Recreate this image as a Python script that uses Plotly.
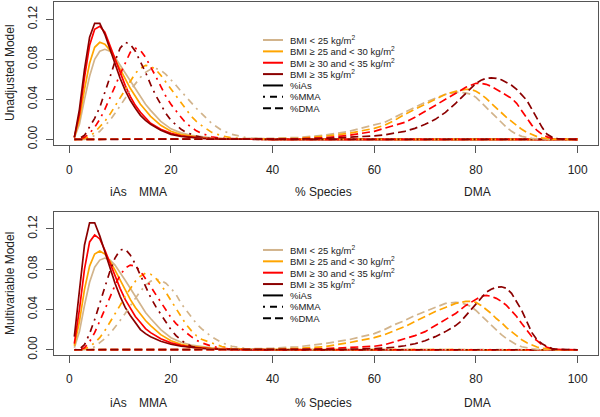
import plotly.graph_objects as go

# ---------------- data ----------------
bmi_labels = ["BMI < 25 kg/m<sup>2</sup>", "BMI \u2265 25 and < 30 kg/m<sup>2</sup>",
              "BMI \u2265 30 and < 35 kg/m<sup>2</sup>", "BMI \u2265 35 kg/m<sup>2</sup>"]
species_labels = ["%iAs", "%MMA", "%DMA"]
panel_titles = ["Unadjusted Model", "Multivariable Model"]
x_tickvals = [0, 20, 40, 60, 80, 100]
y_tickvals = [0.00, 0.04, 0.08, 0.12]
y_ticktext = ["0.00", "0.04", "0.08", "0.12"]
species_axis_names = ["iAs", "MMA", "% Species", "DMA"]
species_axis_pos = [9.6, 16.5, 50.0, 80.3]

x_ias = [1, 2, 3, 4, 5, 6, 7, 8, 9, 10, 11, 12, 13, 14, 15, 16, 18, 20, 22, 24, 26, 28, 30, 35, 40, 100]
x_mma = [1, 2, 3, 4, 5, 6, 7, 8, 9, 10, 11, 12, 13, 14, 15, 16, 17, 18, 19, 20, 21, 22, 23, 24, 25, 26,
         28, 30, 32, 35, 40, 100]
x_dma = [1, 30, 40, 45, 50, 55, 60, 62, 64, 66, 68, 70, 72, 74, 76, 77, 78, 79, 80, 81, 82, 83, 84, 85,
         86, 87, 88, 89, 90, 91, 92, 93, 94, 95, 96, 97, 100]

# Unadjusted model -- %iAs
unadj_ias_bmi1 = [0.0015, 0.015, 0.040, 0.063, 0.080, 0.088, 0.090, 0.088, 0.082, 0.074, 0.066, 0.058, 0.050,
                  0.042, 0.035, 0.029, 0.018, 0.0105, 0.0065, 0.004, 0.0024, 0.0014, 0.0008, 0.0002, 0.0, 0.0]
unadj_ias_bmi2 = [0.002, 0.020, 0.050, 0.076, 0.092, 0.097, 0.095, 0.089, 0.080, 0.070, 0.060, 0.051, 0.043,
                  0.035, 0.029, 0.023, 0.014, 0.008, 0.0047, 0.0028, 0.0016, 0.0009, 0.0005, 0.0001, 0.0, 0.0]
unadj_ias_bmi3 = [0.002, 0.025, 0.062, 0.094, 0.110, 0.113, 0.107, 0.094, 0.080, 0.066, 0.054, 0.043, 0.034,
                  0.027, 0.021, 0.016, 0.010, 0.006, 0.0035, 0.002, 0.0012, 0.0007, 0.0004, 0.0001, 0.0, 0.0]
unadj_ias_bmi4 = [0.002, 0.030, 0.070, 0.102, 0.116, 0.116, 0.105, 0.090, 0.075, 0.061, 0.049, 0.039, 0.031,
                  0.024, 0.019, 0.015, 0.009, 0.005, 0.003, 0.0018, 0.001, 0.0006, 0.0003, 0.0001, 0.0, 0.0]

# Unadjusted model -- %MMA
unadj_mma_bmi1 = [0.0, 0.0, 0.0, 0.001, 0.004, 0.008, 0.013, 0.019, 0.026, 0.033, 0.041, 0.049, 0.056, 0.062,
                  0.067, 0.070, 0.071, 0.069, 0.065, 0.060, 0.054, 0.048, 0.042, 0.036, 0.031, 0.026,
                  0.016, 0.009, 0.005, 0.0015, 0.0003, 0.0]
unadj_mma_bmi2 = [0.0, 0.0, 0.001, 0.003, 0.007, 0.012, 0.018, 0.025, 0.033, 0.041, 0.050, 0.058, 0.066, 0.071,
                  0.074, 0.073, 0.070, 0.064, 0.057, 0.050, 0.043, 0.036, 0.029, 0.023, 0.018, 0.014,
                  0.007, 0.0035, 0.0015, 0.0005, 0.0001, 0.0]
unadj_mma_bmi3 = [0.0, 0.0, 0.002, 0.006, 0.012, 0.020, 0.030, 0.041, 0.053, 0.065, 0.076, 0.087, 0.091, 0.089,
                  0.082, 0.073, 0.063, 0.053, 0.043, 0.035, 0.028, 0.022, 0.016, 0.012, 0.0085, 0.006,
                  0.0025, 0.001, 0.0004, 0.0001, 0.0, 0.0]
unadj_mma_bmi4 = [0.0, 0.001, 0.004, 0.012, 0.021, 0.032, 0.046, 0.062, 0.078, 0.091, 0.097, 0.095, 0.088, 0.078,
                  0.067, 0.055, 0.044, 0.035, 0.026, 0.019, 0.014, 0.010, 0.007, 0.005, 0.0033, 0.002,
                  0.0008, 0.0003, 0.0001, 0.0, 0.0, 0.0]

# Unadjusted model -- %DMA
unadj_dma_bmi1 = [0.0, 0.0002, 0.001, 0.002, 0.004, 0.008, 0.014, 0.017, 0.022, 0.027, 0.032, 0.037, 0.041,
                  0.045, 0.047, 0.047, 0.0465, 0.045, 0.042, 0.037, 0.032, 0.026, 0.021, 0.016, 0.012, 0.008,
                  0.005, 0.003, 0.0017, 0.001, 0.0005, 0.0002, 0.0001, 0.0, 0.0, 0.0, 0.0]
unadj_dma_bmi2 = [0.0, 0.0001, 0.0005, 0.001, 0.003, 0.006, 0.011, 0.014, 0.019, 0.025, 0.030, 0.035, 0.040,
                  0.045, 0.048, 0.049, 0.050, 0.050, 0.048, 0.045, 0.041, 0.036, 0.031, 0.026, 0.022, 0.018,
                  0.014, 0.010, 0.007, 0.0045, 0.0027, 0.0015, 0.0007, 0.0003, 0.0001, 0.0, 0.0]
unadj_dma_bmi3 = [0.0, 0.0, 0.0002, 0.0005, 0.0015, 0.004, 0.008, 0.011, 0.014, 0.017, 0.022, 0.028, 0.034,
                  0.040, 0.046, 0.049, 0.052, 0.054, 0.056, 0.056, 0.055, 0.053, 0.050, 0.047, 0.044, 0.041,
                  0.036, 0.029, 0.021, 0.014, 0.009, 0.005, 0.0025, 0.001, 0.0004, 0.0001, 0.0]
unadj_dma_bmi4 = [0.0, 0.0, 0.0001, 0.0003, 0.0008, 0.002, 0.0035, 0.0045, 0.006, 0.008, 0.011, 0.015, 0.020,
                  0.027, 0.036, 0.041, 0.047, 0.052, 0.056, 0.059, 0.061, 0.0615, 0.061, 0.0595, 0.057, 0.054,
                  0.050, 0.045, 0.039, 0.030, 0.021, 0.012, 0.005, 0.002, 0.0007, 0.0003, 0.0]

# Multivariable model -- %iAs
multi_ias_bmi1 = [0.002, 0.018, 0.044, 0.067, 0.082, 0.089, 0.091, 0.089, 0.084, 0.077, 0.069, 0.061, 0.053,
                  0.044, 0.037, 0.031, 0.020, 0.012, 0.0075, 0.0047, 0.003, 0.0018, 0.0011, 0.0003, 0.0001, 0.0]
multi_ias_bmi2 = [0.004, 0.028, 0.060, 0.083, 0.095, 0.098, 0.095, 0.088, 0.079, 0.069, 0.059, 0.050, 0.042,
                  0.035, 0.029, 0.024, 0.015, 0.009, 0.0055, 0.0035, 0.0022, 0.0014, 0.0009, 0.0002, 0.0001, 0.0]
multi_ias_bmi3 = [0.006, 0.040, 0.080, 0.107, 0.114, 0.110, 0.099, 0.086, 0.073, 0.061, 0.050, 0.041, 0.033,
                  0.027, 0.021, 0.017, 0.011, 0.0068, 0.0043, 0.0027, 0.0017, 0.001, 0.0006, 0.0002, 0.0, 0.0]
multi_ias_bmi4 = [0.013, 0.058, 0.104, 0.126, 0.126, 0.113, 0.097, 0.081, 0.066, 0.053, 0.042, 0.034, 0.027,
                  0.020, 0.016, 0.013, 0.0085, 0.0055, 0.0035, 0.0022, 0.0014, 0.0009, 0.0005, 0.0001, 0.0, 0.0]

# Multivariable model -- %MMA
multi_mma_bmi1 = [0.0, 0.0, 0.0, 0.001, 0.003, 0.007, 0.011, 0.016, 0.022, 0.029, 0.036, 0.044, 0.051, 0.058,
                  0.064, 0.068, 0.070, 0.069, 0.066, 0.061, 0.055, 0.046, 0.039, 0.032, 0.026, 0.021,
                  0.013, 0.007, 0.0035, 0.001, 0.0002, 0.0]
multi_mma_bmi2 = [0.0, 0.0, 0.001, 0.003, 0.007, 0.012, 0.019, 0.027, 0.035, 0.044, 0.053, 0.061, 0.068, 0.073,
                  0.076, 0.075, 0.071, 0.065, 0.057, 0.049, 0.040, 0.032, 0.025, 0.019, 0.014, 0.0105,
                  0.0065, 0.0032, 0.0015, 0.0005, 0.0001, 0.0]
multi_mma_bmi3 = [0.0, 0.0, 0.002, 0.008, 0.017, 0.028, 0.040, 0.052, 0.064, 0.074, 0.081, 0.084, 0.083, 0.078,
                  0.071, 0.063, 0.055, 0.047, 0.039, 0.032, 0.026, 0.021, 0.017, 0.013, 0.0095, 0.007,
                  0.0035, 0.0015, 0.0006, 0.0001, 0.0, 0.0]
multi_mma_bmi4 = [0.0, 0.0005, 0.005, 0.016, 0.030, 0.046, 0.063, 0.078, 0.091, 0.099, 0.100, 0.094, 0.085, 0.074,
                  0.063, 0.052, 0.043, 0.035, 0.027, 0.020, 0.014, 0.0095, 0.006, 0.0035, 0.002, 0.0012,
                  0.0004, 0.0001, 0.0, 0.0, 0.0, 0.0]

# Multivariable model -- %DMA
multi_dma_bmi1 = [0.0, 0.0003, 0.0015, 0.003, 0.006, 0.010, 0.016, 0.020, 0.025, 0.029, 0.034, 0.038, 0.042,
                  0.046, 0.047, 0.0465, 0.045, 0.043, 0.039, 0.034, 0.029, 0.024, 0.019, 0.015, 0.011, 0.0078,
                  0.005, 0.003, 0.0018, 0.001, 0.0005, 0.0002, 0.0001, 0.0, 0.0, 0.0, 0.0]
multi_dma_bmi2 = [0.0, 0.0001, 0.0005, 0.0015, 0.003, 0.007, 0.012, 0.015, 0.019, 0.023, 0.028, 0.033, 0.038,
                  0.042, 0.046, 0.047, 0.048, 0.048, 0.047, 0.044, 0.040, 0.036, 0.031, 0.027, 0.022, 0.018,
                  0.014, 0.010, 0.007, 0.0045, 0.0027, 0.0015, 0.0008, 0.0004, 0.0001, 0.0, 0.0]
multi_dma_bmi3 = [0.0, 0.0, 0.0001, 0.0003, 0.001, 0.002, 0.0035, 0.005, 0.008, 0.011, 0.014, 0.018, 0.024,
                  0.030, 0.036, 0.040, 0.044, 0.047, 0.050, 0.053, 0.054, 0.053, 0.051, 0.048, 0.044, 0.039,
                  0.033, 0.026, 0.019, 0.013, 0.009, 0.005, 0.0025, 0.001, 0.0005, 0.0001, 0.0]
multi_dma_bmi4 = [0.0, 0.0, 0.0, 0.0001, 0.0002, 0.0005, 0.0012, 0.0018, 0.0025, 0.004, 0.006, 0.009, 0.013,
                  0.018, 0.024, 0.028, 0.034, 0.040, 0.046, 0.052, 0.057, 0.060, 0.062, 0.0625, 0.061, 0.056,
                  0.048, 0.039, 0.028, 0.017, 0.010, 0.006, 0.003, 0.0012, 0.0004, 0.0002, 0.0]

# ---------------- style ----------------
colors = ["#D2B48C", "#FFA500", "#FF0000", "#8B0000"]
dashes = ["solid", "2px,5px,7px,5px", "8px,4px"]
FONT = "Liberation Sans, Arial, Helvetica, sans-serif"
W, H = 600, 417
AXC = "#555555"
TXT = "#222222"
LW = 1.7

panels = [
    dict(xa="x", ya="y",
         series=[(x_ias, [unadj_ias_bmi1, unadj_ias_bmi2, unadj_ias_bmi3, unadj_ias_bmi4]),
                 (x_mma, [unadj_mma_bmi1, unadj_mma_bmi2, unadj_mma_bmi3, unadj_mma_bmi4]),
                 (x_dma, [unadj_dma_bmi1, unadj_dma_bmi2, unadj_dma_bmi3, unadj_dma_bmi4])],
         box=(2, 147), yrange=[-0.0059, 0.1373], title_y=74, lab_y=194, leg_y0=40.5),
    dict(xa="x2", ya="y2",
         series=[(x_ias, [multi_ias_bmi1, multi_ias_bmi2, multi_ias_bmi3, multi_ias_bmi4]),
                 (x_mma, [multi_mma_bmi1, multi_mma_bmi2, multi_mma_bmi3, multi_mma_bmi4]),
                 (x_dma, [multi_dma_bmi1, multi_dma_bmi2, multi_dma_bmi3, multi_dma_bmi4])],
         box=(215, 359), yrange=[-0.0049, 0.1363], title_y=287.5, lab_y=408, leg_y0=253),
]

fig = go.Figure()
shapes = []
annotations = []

for pi, p in enumerate(panels):
    for si, (xs, groups) in enumerate(p["series"]):
        for gi, ys in enumerate(groups):
            fig.add_trace(go.Scatter(
                x=xs, y=ys, mode="lines", xaxis=p["xa"], yaxis=p["ya"],
                line=dict(color=colors[gi], width=LW, dash=dashes[si]),
                showlegend=False, hoverinfo="skip"))

    top, bot = p["box"]
    suffix = "" if pi == 0 else "2"
    fig.layout["xaxis" + suffix] = dict(
        domain=[54 / W, 598 / W], range=[-3.0, 104.0], anchor="y" + suffix,
        tickvals=x_tickvals, ticks="outside", ticklen=7, tickwidth=1, tickcolor=AXC,
        showline=True, linecolor=AXC, linewidth=1, mirror=True,
        showgrid=False, zeroline=False, ticklabelstandoff=6,
        tickfont=dict(family=FONT, size=12, color=TXT))
    fig.layout["yaxis" + suffix] = dict(
        domain=[1 - bot / H, 1 - top / H], range=p["yrange"], anchor="x" + suffix,
        tickvals=y_tickvals, ticktext=y_ticktext, tickangle=-90,
        ticks="outside", ticklen=7, tickwidth=1, tickcolor=AXC,
        showline=True, linecolor=AXC, linewidth=1, mirror=True,
        showgrid=False, zeroline=False, ticklabelstandoff=4,
        tickfont=dict(family=FONT, size=12, color=TXT))

    # panel title (y axis label)
    annotations.append(dict(text=panel_titles[pi], x=10 / W, y=1 - p["title_y"] / H,
                            xref="paper", yref="paper", textangle=-90, showarrow=False,
                            xanchor="center", yanchor="middle",
                            font=dict(family=FONT, size=12, color=TXT)))
    # species labels under the axis
    for name, pos in zip(species_axis_names, species_axis_pos):
        annotations.append(dict(text=name, x=pos, y=1 - p["lab_y"] / H,
                                xref="x" + suffix, yref="paper", showarrow=False,
                                xanchor="center", yanchor="middle",
                                font=dict(family=FONT, size=12, color=TXT)))
    # legend
    leg_items = [(bmi_labels[i], colors[i], "solid") for i in range(4)] + \
                [(species_labels[i], "black", dashes[i]) for i in range(3)]
    for ri, (lab, col, dsh) in enumerate(leg_items):
        ry = p["leg_y0"] + ri * 11.5
        shapes.append(dict(type="line", xref="paper", yref="paper",
                           x0=263 / W, x1=283 / W, y0=1 - ry / H, y1=1 - ry / H,
                           line=dict(color=col, width=2, dash=dsh)))
        annotations.append(dict(text=lab, x=288 / W, y=1 - ry / H, xref="paper", yref="paper",
                                showarrow=False, xanchor="left", yanchor="middle",
                                font=dict(family=FONT, size=9.5, color=TXT)))

fig.update_layout(width=W, height=H, margin=dict(l=0, r=0, t=0, b=0),
                  paper_bgcolor="white", plot_bgcolor="white",
                  showlegend=False, shapes=shapes, annotations=annotations)

fig.write_html("out.html", config={"displayModeBar": False, "staticPlot": True},
               post_script="document.body.style.margin='0';document.body.style.padding='0';")
